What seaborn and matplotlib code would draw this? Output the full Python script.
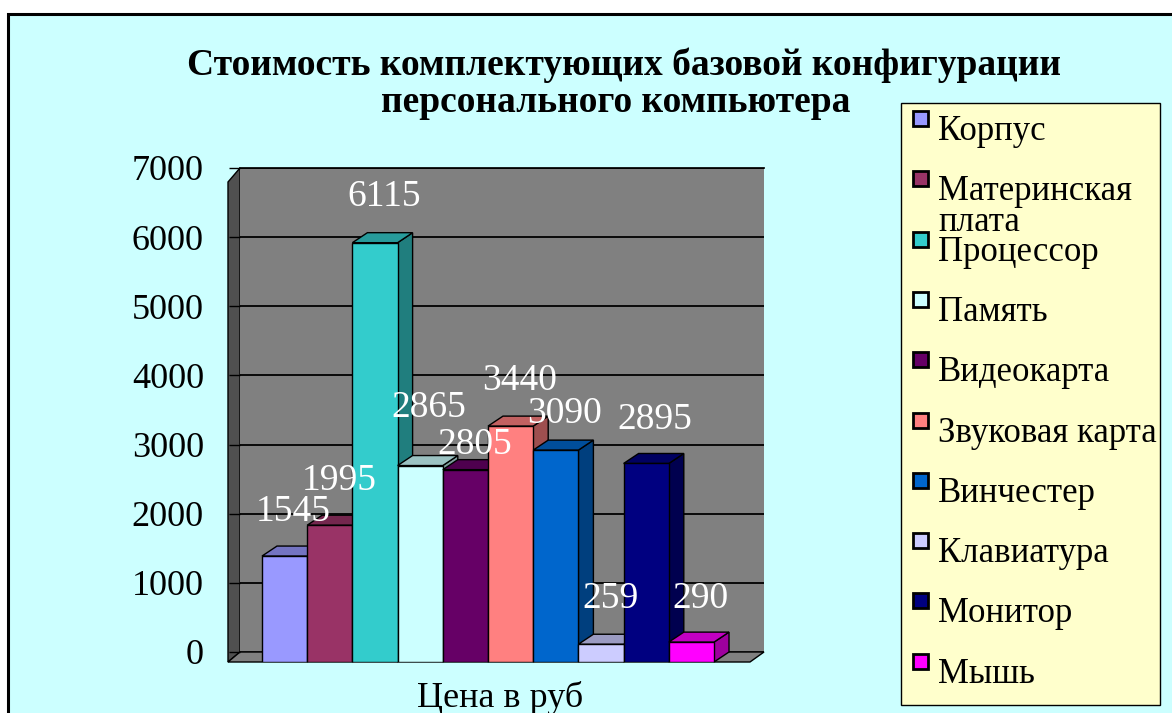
import numpy as np
import pandas as pd
import matplotlib
matplotlib.use("Agg")
import matplotlib.pyplot as plt
import seaborn as sns
from matplotlib.patches import Polygon, Rectangle
from matplotlib.colors import to_rgb

# ==============================
# DATA
# ==============================
parts = ["Корпус", "Материнская плата", "Процессор", "Память", "Видеокарта",
         "Звуковая карта", "Винчестер", "Клавиатура", "Монитор", "Мышь"]
prices = [1545, 1995, 6115, 2865, 2805, 3440, 3090, 259, 2895, 290]
colors = ["#9999FF", "#993366", "#33CCCC", "#CCFFFF", "#660066",
          "#FF8080", "#0066CC", "#CCCCFF", "#000080", "#FF00FF"]
legend_labels = ["Корпус", "Материнская\nплата", "Процессор", "Память", "Видеокарта",
                 "Звуковая карта", "Винчестер", "Клавиатура", "Монитор", "Мышь"]
yticks = [0, 1000, 2000, 3000, 4000, 5000, 6000, 7000]

title_lines = ["Стоимость комплектующих базовой конфигурации",
               "персонального компьютера"]
xlabel = "Цена в руб"

# label lift above each bar (pixels) - the original has a few labels nudged by hand
label_lift = [44, 44, 46, 58, 25, 45, 36, 45, 44, 43]

# ==============================
# SETUP
# ==============================
W, H = 1172, 713
sns.set_theme(style="white")
plt.rcParams["font.family"] = ["Liberation Serif", "DejaVu Serif"]

fig = plt.figure(figsize=(W / 100, H / 100), dpi=100)
fig.patch.set_facecolor("white")


def rect(l, t, r, b):
    # pixel box (from top-left) -> figure fraction
    return [l / W, 1 - b / H, (r - l) / W, (b - t) / H]


def px(x, y):
    return (x / W, 1 - y / H)


def shade(c, f):
    r, g, b = to_rgb(c)
    return (r * f, g * f, b * f)


# chart area background
fig.add_artist(Rectangle(px(8, 14), (W + 20) / W, -(H + 20) / H,
                         transform=fig.transFigure, facecolor="#CCFFFF",
                         edgecolor="black", lw=2.2, zorder=-1))

# ==============================
# BACK WALL (value axis)
# ==============================
back = fig.add_axes(rect(240, 168, 764, 652))
back.set_zorder(1)
back.set_facecolor("#808080")
back.set_xlim(0, 1)
back.set_ylim(0, 7000)
back.set_yticks(yticks)
back.set_xticks([])
back.grid(axis="y", color="black", lw=1.3)
for s in back.spines.values():
    s.set_visible(False)
back.spines["top"].set_visible(True)
back.spines["top"].set_color("black")
back.tick_params(axis="y", left=True, labelsize=26, length=8, width=1,
                 color="black", pad=18, labelcolor="black")

# left wall and floor
fig.add_artist(Polygon([px(228, 662), px(228, 182), px(240, 168), px(240, 652)],
                       closed=True, transform=fig.transFigure, facecolor="#505050",
                       edgecolor="black", lw=1, zorder=0.5))
fig.add_artist(Polygon([px(228, 662), px(750, 662), px(764, 652), px(240, 652)],
                       closed=True, transform=fig.transFigure, facecolor="#808080",
                       edgecolor="black", lw=1, zorder=0.5))

# ==============================
# BARS (front plane)
# ==============================
front = fig.add_axes(rect(228, 182, 750, 662))
front.set_zorder(3)
front.patch.set_alpha(0)

df = pd.DataFrame({"part": parts, "price": prices})
sns.barplot(data=df, x="part", y="price", hue="part", order=parts, hue_order=parts,
            palette=colors, saturation=1, width=1.0, errorbar=None, edgecolor="black",
            linewidth=1, legend=False, ax=front)

unit_px = 45.2
xl = -0.5 - 34 / unit_px
front.set_xlim(xl, xl + 522 / unit_px)
front.set_ylim(0, 7000)
front.axis("off")

ddx = 15 / unit_px
ddy = 10 * 7000 / 480

bars = sorted(front.patches, key=lambda p: p.get_x())
for i, (bar, c, v, lift) in enumerate(zip(bars, colors, prices, label_lift)):
    x0, w, h = bar.get_x(), bar.get_width(), bar.get_height()
    x1 = x0 + w
    bar.set_zorder(4 + 3 * i)
    front.add_patch(Polygon([(x1, 0), (x1 + ddx, ddy), (x1 + ddx, h + ddy), (x1, h)],
                            closed=True, facecolor=shade(c, 0.62), edgecolor="black",
                            lw=1, zorder=3 + 3 * i, clip_on=False))
    front.add_patch(Polygon([(x0, h), (x1, h), (x1 + ddx, h + ddy), (x0 + ddx, h + ddy)],
                            closed=True, facecolor=shade(c, 0.76), edgecolor="black",
                            lw=1, zorder=3 + 3 * i, clip_on=False))
    front.annotate(str(v), (x0 + w / 2, h), xytext=(9, lift), textcoords="offset pixels",
                   ha="center", va="center", color="white", fontsize=27,
                   zorder=100, annotation_clip=False)

# ==============================
# TEXTS
# ==============================
fig.text(624 / W, 1 - 65 / H, title_lines[0], ha="center", va="center", fontsize=27,
         fontweight="bold", color="black")
fig.text(616 / W, 1 - 102 / H, title_lines[1], ha="center", va="center", fontsize=27,
         fontweight="bold", color="black")
fig.text(500 / W, 1 - 698 / H, xlabel, ha="center", va="center", fontsize=26,
         color="black")

# ==============================
# LEGEND (drawn by hand so the wrapped label overlaps like the original)
# ==============================
fig.add_artist(Rectangle(px(901, 705), (1160 - 901) / W, (705 - 103) / H,
                         transform=fig.transFigure, facecolor="#FFFFCC",
                         edgecolor="black", lw=1, zorder=5))
step = 60.3
for i, (lab, c) in enumerate(zip(legend_labels, colors)):
    ytop = 111 + i * step
    fig.add_artist(Rectangle(px(913, ytop + 15), 15 / W, 15 / H,
                             transform=fig.transFigure, facecolor=c,
                             edgecolor="black", lw=2, zorder=6))
    fig.text(938 / W, 1 - (ytop + 4) / H, lab, ha="left", va="top", fontsize=25,
             linespacing=0.92, color="black", zorder=6)

fig.savefig("out.png", dpi=100)
